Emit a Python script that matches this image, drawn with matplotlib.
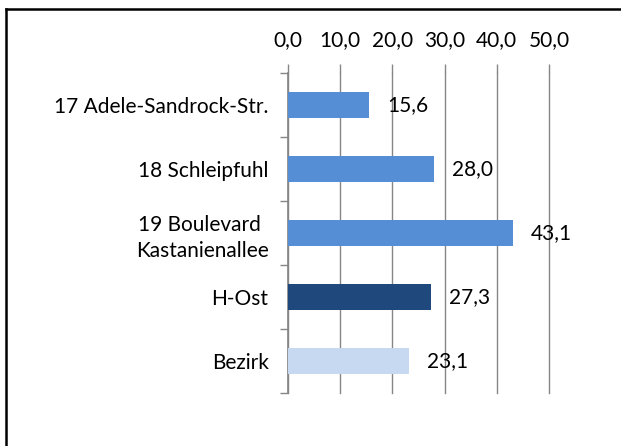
import matplotlib
matplotlib.use("Agg")
import matplotlib.pyplot as plt
from matplotlib.lines import Line2D

categories = ["17 Adele-Sandrock-Str.", "18 Schleipfuhl", "19 Boulevard \nKastanienallee", "H-Ost", "Bezirk"]
values = [15.6, 28.0, 43.1, 27.3, 23.1]
colors = ["#558ED5", "#558ED5", "#558ED5", "#1F497D", "#C6D9F0"]
xticks = [0, 10, 20, 30, 40, 50]
xticklabels = ["0,0", "10,0", "20,0", "30,0", "40,0", "50,0"]

plt.rcParams['font.family'] = ['Lato', 'DejaVu Sans']
FS = 15
W, H = 621, 446
fig = plt.figure(figsize=(W / 100, H / 100), dpi=100)
ax = fig.add_axes([288 / W, 1 - 393 / H, (549 - 288) / W, (393 - 73) / H])

pos = list(range(len(categories)))
ax.barh(pos, values, height=0.4, color=colors, zorder=3)
ax.set_xlim(0, 50)
ax.set_ylim(len(categories) - 0.5, -0.5)

grey = "#868686"
for s in ["top", "right", "bottom"]:
    ax.spines[s].set_visible(False)
ax.spines["left"].set_color(grey)
ax.spines["left"].set_linewidth(1.2)

ax.xaxis.tick_top()
ax.set_xticks(xticks)
ax.set_xticklabels(xticklabels, fontsize=FS)
ax.tick_params(axis="x", direction="out", length=6.5, width=1.0, color=grey, pad=10)
ax.grid(axis="x", color=grey, linewidth=1.0, zorder=0)
for gl in ax.get_xgridlines():
    gl.set_clip_on(False)

# y ticks: marks at category boundaries, labels at centers
ax.set_yticks([p - 0.5 for p in pos] + [pos[-1] + 0.5])
ax.set_yticklabels([])
ax.tick_params(axis="y", which="major", direction="out", length=5.5, width=1.0, color=grey)
ax.set_yticks(pos, minor=True)
ax.set_yticklabels(categories, minor=True, fontsize=FS, multialignment="center", linespacing=1.35)
ax.tick_params(axis="y", which="minor", length=0, pad=14)

for p, v in zip(pos, values):
    ax.annotate(f"{v:.1f}".replace(".", ","), (v, p), xytext=(13, 0), textcoords="offset points",
                va="center", ha="left", fontsize=FS, color="black")

# outer border (partially visible)
fig.add_artist(Line2D([6 / W, 6 / W], [0, 1 - 9 / H], transform=fig.transFigure, color="black", linewidth=1.8))
fig.add_artist(Line2D([6 / W, 1], [1 - 9 / H, 1 - 9 / H], transform=fig.transFigure, color="black", linewidth=1.8))

fig.savefig("out.png", dpi=100)
